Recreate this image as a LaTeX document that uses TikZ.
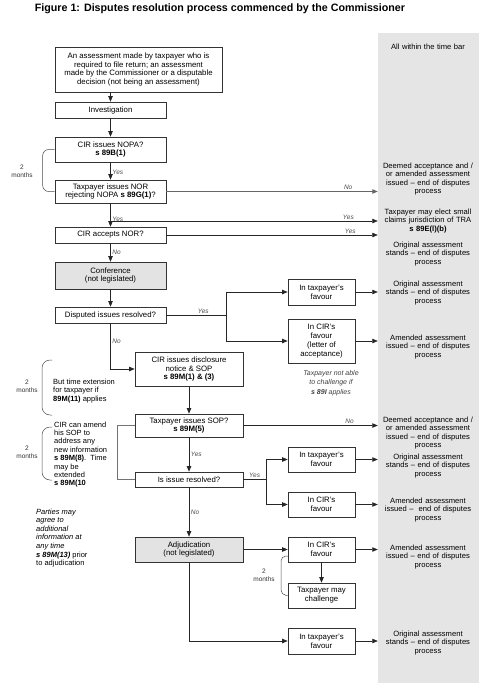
\documentclass[tikz,border=0pt]{standalone}
\usepackage{fontspec}
\setmainfont{Liberation Sans}
\usetikzlibrary{arrows.meta}
\tikzset{
  every node/.style = {font=\fontsize{7.8}{8.8}\selectfont},   % Arial-like body text
  flowbox/.style    = {rectangle, draw=black!80, line width=0.6pt, fill=white,
                       align=center, inner sep=1pt},
  mainbox/.style    = {flowbox, minimum width=111pt},
  sidebox/.style    = {flowbox, minimum width=108pt},
  favbox/.style     = {flowbox, minimum width=67pt},
  greybox/.style    = {fill=gray!22},
  outcome/.style    = {text width=92pt, inner xsep=4pt, inner ysep=0pt, align=center,
                       font=\fontsize{7.6}{8.6}\selectfont},
  choice/.style     = {font=\fontsize{6.5}{7.5}\selectfont\itshape, text=black!70, inner sep=1.5pt},
  period/.style     = {font=\fontsize{6.5}{8}\selectfont, align=center, text=black!80},
  remark/.style     = {font=\fontsize{7.5}{8.4}\selectfont, align=left, anchor=west, inner sep=0pt},
  arrow/.style      = {-{Triangle[length=5.5pt,width=4.4pt]}, draw=black!85, line width=0.65pt},
  link/.style       = {draw=black!85, line width=0.65pt},
  brace/.style      = {draw=black!70, line width=0.5pt, rounded corners=6pt}
}
\begin{document}
\begin{tikzpicture}[x=1pt,y=-1pt]
  \useasboundingbox (0,0) rectangle (479,683);
  \fill[gray!20] (378,33) rectangle (479,683);
  \node[font=\fontsize{10.7}{12}\selectfont\bfseries, inner sep=0pt] (title) at (220,9) {Figure 1: Disputes resolution process commenced by the Commissioner};
  \node[outcome] (bar) at (428,47) {All within the time bar};

  \node[flowbox, minimum width=167pt, minimum height=45pt] (assess) at (138.5,69.5) {An assessment made by taxpayer who is\\ required to file return; an assessment\\ made by the Commissioner or a disputable\\ decision (not being an assessment)};
  \node[mainbox, minimum height=16pt] (invest) at (110.5,110) {Investigation};
  \node[mainbox, minimum height=25pt] (nopa) at (110.5,149.5) {CIR issues NOPA?\\ \textbf{s 89B(1)}};
  \node[mainbox, minimum height=23pt] (nor) at (110.5,191.5) {Taxpayer issues NOR\\ rejecting NOPA \textbf{s 89G(1)}?};
  \node[mainbox, minimum height=16pt] (accept) at (110.5,235) {CIR accepts NOR?};
  \node[mainbox, greybox, minimum height=27pt] (conf) at (110.5,275.5) {Conference\\ (not legislated)};
  \node[mainbox, minimum height=16pt] (agree1) at (110.5,315) {Disputed issues resolved?};
  \node[favbox, minimum height=26pt] (tpfav1) at (321.5,292) {In taxpayer's\\ favour};
  \node[favbox, minimum height=44pt] (cirfav1) at (321.5,341) {In CIR's\\ favour\\ (letter of\\ acceptance)};
  \node[sidebox, minimum height=34pt] (disclose) at (189,369) {CIR issues disclosure\\ notice \& SOP\\ \textbf{s 89M(1) \& (3)}};
  \node[sidebox, minimum height=23pt] (sop) at (189,425.5) {Taxpayer issues SOP?\\ \textbf{s 89M(5)}};
  \node[sidebox, minimum height=15pt] (agree2) at (189,479.5) {Is issue resolved?};
  \node[favbox, minimum height=25pt] (tpfav2) at (321.5,459.5) {In taxpayer's\\ favour};
  \node[favbox, minimum height=25pt] (cirfav2) at (321.5,504.5) {In CIR's\\ favour};
  \node[sidebox, greybox, minimum height=25pt] (adjud) at (189,549.5) {Adjudication\\ (not legislated)};
  \node[favbox, minimum height=25pt] (cirfav3) at (321.5,549.5) {In CIR's\\ favour};
  \node[favbox, minimum height=25pt] (challenge) at (321.5,595.5) {Taxpayer may\\ challenge};
  \node[favbox, minimum height=26pt] (tpfav3) at (321.5,641) {In taxpayer's\\ favour};

  \node[outcome] (out1) at (428,179) {Deemed acceptance and /\\ or amended assessment\\ issued -- end of disputes\\ process};
  \node[outcome] (out2) at (428,221) {Taxpayer may elect small\\ claims jurisdiction of TRA\\ \textbf{s 89E(l)(b)}};
  \node[outcome] (out3) at (428,254) {Original assessment\\ stands -- end of disputes\\ process};
  \node[outcome] (out4) at (428,293) {Original assessment\\ stands -- end of disputes\\ process};
  \node[outcome] (out5) at (428,347) {Amended assessment\\ issued -- end of disputes\\ process};
  \node[outcome] (out6) at (428,433) {Deemed acceptance and /\\ or amended assessment\\ issued -- end of disputes\\ process};
  \node[outcome] (out7) at (428,466) {Original assessment\\ stands -- end of disputes\\ process};
  \node[outcome] (out8) at (428,510) {Amended assessment\\ issued --\ \ end of disputes\\ process};
  \node[outcome] (out9) at (428,557) {Amended assessment\\ issued -- end of disputes\\ process};
  \node[outcome] (out10) at (428,643) {Original assessment\\ stands -- end of disputes\\ process};

  \node[remark] (extend) at (53,391) {But time extension\\ for taxpayer if\\ \textbf{89M(11)} applies};
  \node[remark] (amend) at (54,454.5) {CIR can amend\\ his SOP to\\ address any\\ new information\\ \textbf{s 89M(8)}.\ \ Time\\ may be\\ extended\\ \textbf{s 89M(10}};
  \node[remark, font=\fontsize{7.5}{8.6}\selectfont\itshape] (parties) at (36,538) {Parties may\\ agree to\\ additional\\ information at\\ any time\\ \textbf{s 89M(13)} {\upshape prior}\\ {\upshape to adjudication}};
  \node[font=\fontsize{7}{9.5}\selectfont\itshape, text=black!75, align=center] (noappeal) at (331,383) {Taxpayer not able\\ to challenge if\\ \textbf{s 89I} applies};

  \node[period] (gap1) at (22,171) {2\\ months};
  \node[period] (gap2) at (27,386) {2\\ months};
  \node[period] (gap3) at (27,452) {2\\ months};
  \node[period] (gap4) at (264,575) {2\\ months};

  \coordinate (split) at (110.5,221);
  \coordinate (fork1) at (226,315);
  \coordinate (fork2) at (266,479.5);

  \draw[arrow] (invest.north |- assess.south) -- (invest.north);
  \draw[arrow] (invest) -- (nopa);
  \draw[arrow] (nopa) -- node[choice, right, pos=0.6] {Yes} (nor);
  \draw[arrow] (nor) -- node[choice, right, pos=0.67] {Yes} (accept);
  \draw[arrow, draw=black!60, line width=0.9pt] (nor) -- node[choice, above, pos=0.86] {No} (nor -| out1.west);
  \draw[arrow] (split) -- node[choice, above, pos=0.89] {Yes} (split -| out2.west);
  \draw[arrow] (accept) -- node[choice, above, pos=0.87] {Yes} (accept -| out3.west);
  \draw[arrow] (accept) -- node[choice, right] {No} (conf);
  \draw[arrow] (conf) -- (agree1);
  \draw[link] (agree1) -- node[choice, above, pos=0.62] {Yes} (fork1);
  \draw[arrow] (fork1) |- (tpfav1.west);
  \draw[arrow] (fork1) |- (cirfav1.west);
  \draw[arrow] (tpfav1) -- (tpfav1 -| out4.west);
  \draw[arrow] (cirfav1) -- (cirfav1 -| out5.west);
  \draw[arrow] (agree1) |- node[choice, right, pos=0.2] {No} (disclose.west);
  \draw[arrow] (disclose) -- (sop);
  \draw[arrow] (sop) -- node[choice, above, pos=0.79] {No} (sop -| out6.west);
  \draw[link, draw=black!55] (sop.west) -- ++(-17,0) |- (agree2.west);
  \draw[arrow] (sop) -- node[choice, right] {Yes} (agree2);
  \draw[link] (agree2) -- node[choice, above] {Yes} (fork2);
  \draw[arrow] (fork2) |- (tpfav2.west);
  \draw[arrow] (fork2) |- (cirfav2.west);
  \draw[arrow] (tpfav2) -- (tpfav2 -| out7.west);
  \draw[arrow] (cirfav2) -- (cirfav2 -| out8.west);
  \draw[arrow] (agree2) -- node[choice, right] {No} (adjud);
  \draw[arrow] (adjud) -- (cirfav3);
  \draw[arrow] (cirfav3) -- (cirfav3 -| out9.west);
  \draw[arrow] (cirfav3) -- (challenge);
  \draw[arrow] (adjud) |- (tpfav3.west);
  \draw[arrow] (tpfav3) -- (tpfav3 -| out10.west);

  \draw[brace] (nopa.west) -- ++(-12,0) |- (nor.west);
  \draw[brace, rounded corners=8pt] (52,360) -- (42,360) -- (42,415) -- (52,415);
  \draw[brace, rounded corners=8pt] (52,427) -- (42,427) -- (42,480) -- (52,480);
  \draw[brace, rounded corners=5pt] (288,556) -- (281,556) -- (281,595) -- (challenge.west);
\end{tikzpicture}
\end{document}
